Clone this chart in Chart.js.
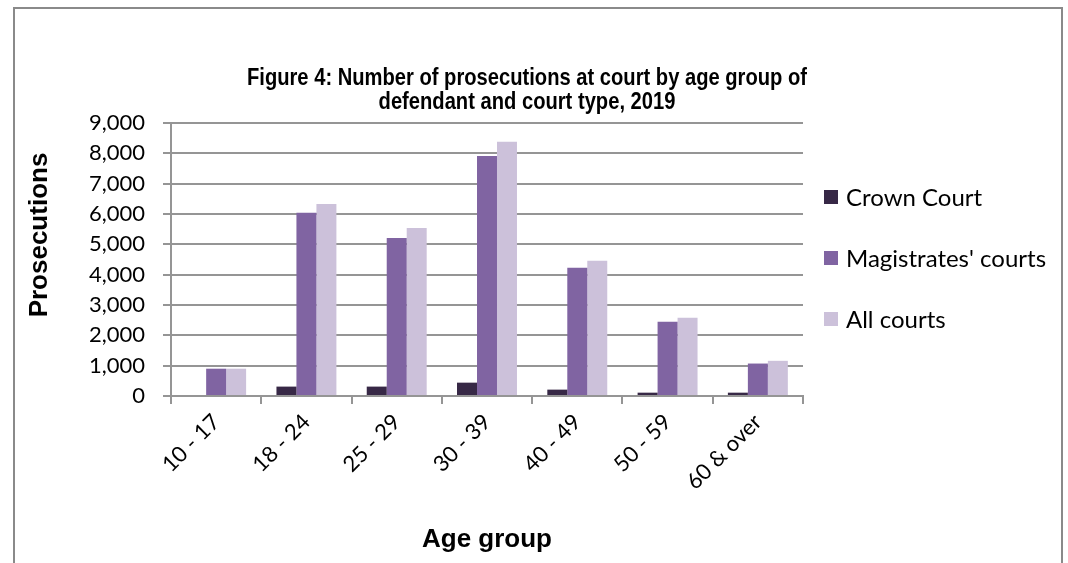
<!DOCTYPE html>
<html>
<head>
<meta charset="utf-8">
<script src="https://cdn.jsdelivr.net/npm/chart.js@4/dist/chart.umd.min.js"></script>
<style>
html,body{margin:0;padding:0;background:#fff;}
canvas{display:block;}
</style>
</head>
<body>
<canvas id="c" width="1068" height="563"></canvas>
<script>
const categories = ['10 - 17', '18 - 24', '25 - 29', '30 - 39', '40 - 49', '50 - 59', '60 & over'];
const crownCourt = [0, 310, 310, 440, 210, 110, 110];
const magistratesCourts = [900, 6040, 5210, 7910, 4230, 2450, 1070];
const allCourts = [900, 6330, 5540, 8380, 4460, 2580, 1160];
const seriesNames = ['Crown Court', "Magistrates' courts", 'All courts'];
const seriesColors = ['#372846', '#8064a2', '#ccc1da'];
const titleLines = ['Figure 4: Number of prosecutions at court by age group of', 'defendant and court type, 2019'];
const yAxisTitle = 'Prosecutions';
const xAxisTitle = 'Age group';

const tickFont = {family: 'Lato', size: 22};
const gridColor = '#959595';

const decor = {
  id: 'decor',
  afterDraw(chart) {
    const ctx = chart.ctx;
    const a = chart.chartArea;
    ctx.save();
    // outer frame
    ctx.strokeStyle = '#8a8a8a';
    ctx.lineWidth = 2;
    ctx.strokeRect(14, 8, 1048, 600);
    // title (condensed, tall)
    ctx.fillStyle = '#000';
    ctx.textAlign = 'center';
    ctx.textBaseline = 'middle';
    ctx.save();
    ctx.translate(527, 0);
    ctx.scale(0.84, 1);
    ctx.font = 'bold 24px "Liberation Sans", Arial, sans-serif';
    ctx.fillText(titleLines[0], 0, 78);
    ctx.fillText(titleLines[1], 0, 102);
    ctx.restore();
    // x axis title
    ctx.font = 'bold 26px "Liberation Sans", Arial, sans-serif';
    ctx.fillText(xAxisTitle, (a.left + a.right) / 2, 540);
    // y axis title
    ctx.save();
    ctx.translate(40, 235);
    ctx.rotate(-Math.PI / 2);
    ctx.fillText(yAxisTitle, 0, 0);
    ctx.restore();
    // legend
    const ys = [197, 258, 319];
    ctx.textAlign = 'left';
    ctx.font = '24px Lato, sans-serif';
    chart.data.datasets.forEach((ds, i) => {
      ctx.fillStyle = ds.backgroundColor;
      ctx.fillRect(824, ys[i] - 7, 14, 14);
      ctx.fillStyle = '#000';
      ctx.fillText(ds.label, 846, ys[i] + 1);
    });
    ctx.restore();
  }
};

new Chart(document.getElementById('c'), {
  type: 'bar',
  data: {
    labels: categories,
    datasets: [
      {label: seriesNames[0], data: crownCourt, backgroundColor: seriesColors[0]},
      {label: seriesNames[1], data: magistratesCourts, backgroundColor: seriesColors[1]},
      {label: seriesNames[2], data: allCourts, backgroundColor: seriesColors[2]}
    ]
  },
  options: {
    responsive: false,
    animation: false,
    devicePixelRatio: 1,
    layout: {padding: {top: 123, right: 265, left: 0, bottom: 0}},
    datasets: {bar: {categoryPercentage: 0.664, barPercentage: 1.0}},
    plugins: {legend: {display: false}, title: {display: false}, tooltip: {enabled: false}},
    scales: {
      x: {
        afterFit(s) { s.height = 167; },
        grid: {offset: true, drawOnChartArea: false, drawTicks: true, tickLength: 8, color: gridColor, lineWidth: 2},
        border: {display: true, color: gridColor, width: 2},
        ticks: {font: tickFont, color: '#000', minRotation: 45, maxRotation: 45, padding: 5, autoSkip: false}
      },
      y: {
        min: 0, max: 9000,
        afterFit(s) { s.width = 171; },
        grid: {drawOnChartArea: true, drawTicks: true, tickLength: 8, color: gridColor, lineWidth: 2},
        border: {display: true, color: gridColor, width: 2},
        ticks: {stepSize: 1000, font: tickFont, color: '#000', padding: 18,
          callback: v => v.toLocaleString('en-US')}
      }
    }
  },
  plugins: [decor]
});
</script>
</body>
</html>
